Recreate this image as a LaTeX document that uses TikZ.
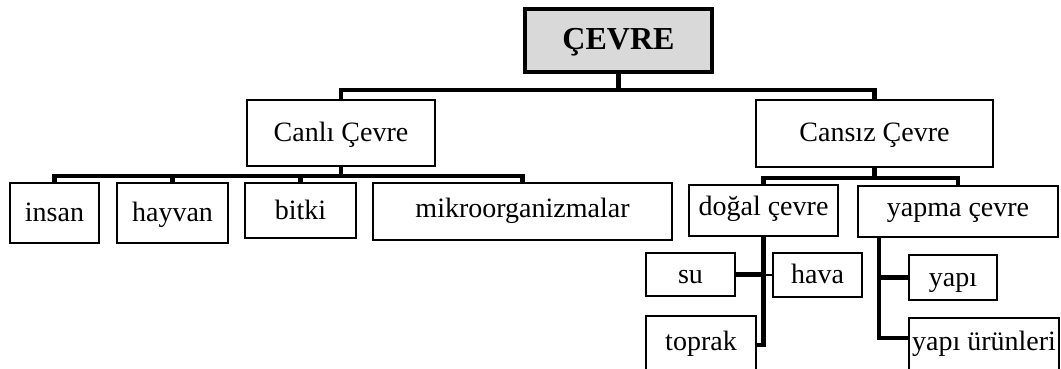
\documentclass[tikz,border=0pt]{standalone}
\usepackage{fontspec}
\setmainfont{Liberation Serif}
\definecolor{boxgray}{HTML}{D9D9D9}
\tikzset{
  box/.style={draw=black, line width=2.5pt, fill=white, inner sep=0pt, text height=22pt, text depth=5pt, font=\fontsize{28}{33}\selectfont},
  topbox/.style={draw=black, line width=4pt, fill=boxgray, inner sep=0pt, text height=24pt, text depth=5pt, font=\fontsize{32}{38}\selectfont\bfseries},
  conn/.style={draw=black, line width=4.5pt, line join=miter, line cap=rect},
  thinconn/.style={draw=black, line width=1.8pt}
}
\begin{document}
\begin{tikzpicture}[x=1pt, y=-1pt]
\useasboundingbox (0,0) rectangle (1061,369);
\clip (0,0) rectangle (1061,369);
% coordinates for connector levels
\coordinate (l0) at (0,90);
\coordinate (l1) at (0,176);
\coordinate (l2) at (0,178);
\coordinate (yv) at (879,0);
\coordinate (yb) at (0,338);
% boxes
\node[topbox, minimum width=187pt, minimum height=63pt] (cevre) at (618.5,40.5) {ÇEVRE};
\node[box, minimum width=188pt, minimum height=66pt] (canli) at (341,133) {Canlı Çevre};
\node[box, minimum width=237pt, minimum height=67pt] (cansiz) at (874.5,133.5) {Cansız Çevre};
\node[box, minimum width=89pt, minimum height=60pt] (insan) at (54.5,213) {insan};
\node[box, minimum width=111pt, minimum height=60pt] (hayvan) at (172.5,213) {hayvan};
\node[box, minimum width=111pt, minimum height=55pt] (bitki) at (300.5,210.5) {bitki};
\node[box, minimum width=299pt, minimum height=57pt, text depth=10pt] (mikro) at (522.5,211.5) {mikroorganizmalar};
\node[box, minimum width=149pt, minimum height=51pt, text depth=12pt] (dogal) at (763.5,210.5) {doğal çevre};
\node[box, minimum width=200pt, minimum height=51pt, text depth=12pt] (yapma) at (958,211.5) {yapma çevre};
\node[box, minimum width=89pt, minimum height=43pt] (su) at (690.5,274.5) {su};
\node[box, minimum width=89pt, minimum height=44pt] (hava) at (817.5,275) {hava};
\node[box, minimum width=110pt, minimum height=58pt, text depth=12pt] (toprak) at (701,345) {toprak};
\node[box, minimum width=88pt, minimum height=45pt] (yapi) at (953,277.5) {yapı};
\node[box, minimum width=150pt, minimum height=54pt, text depth=12pt] (yapiurun) at (984,345) {yapı ürünleri};
% level 0
\draw[conn] (cevre.south) -- (cevre.south |- l0);
\draw[conn] (canli.north) -- (canli.north |- l0) -| (cansiz.north);
% Canli children
\draw[conn] (canli.south) -- (canli.south |- l1);
\draw[conn] (insan.north) |- (mikro.north |- l1) -- (mikro.north);
\draw[conn] (hayvan.north) -- (hayvan.north |- l1);
\draw[conn] (bitki.north) -- (bitki.north |- l1);
% Cansiz children
\draw[conn] (cansiz.south) -- (cansiz.south |- l2);
\draw[conn] (dogal.north) |- (yapma.north |- l2) -- (yapma.north);
% dogal children
\draw[conn] (dogal.south) |- (toprak.east);
\draw[conn] (su.east) -- (su.east -| dogal.south);
\draw[thinconn] (hava.west) -- (hava.west -| dogal.south);
% yapma children
\draw[conn] (yapma.south -| yv) |- (yapiurun.west |- yb);
\draw[conn] (yapi.west) -- (yapi.west -| yv);
\end{tikzpicture}
\end{document}
